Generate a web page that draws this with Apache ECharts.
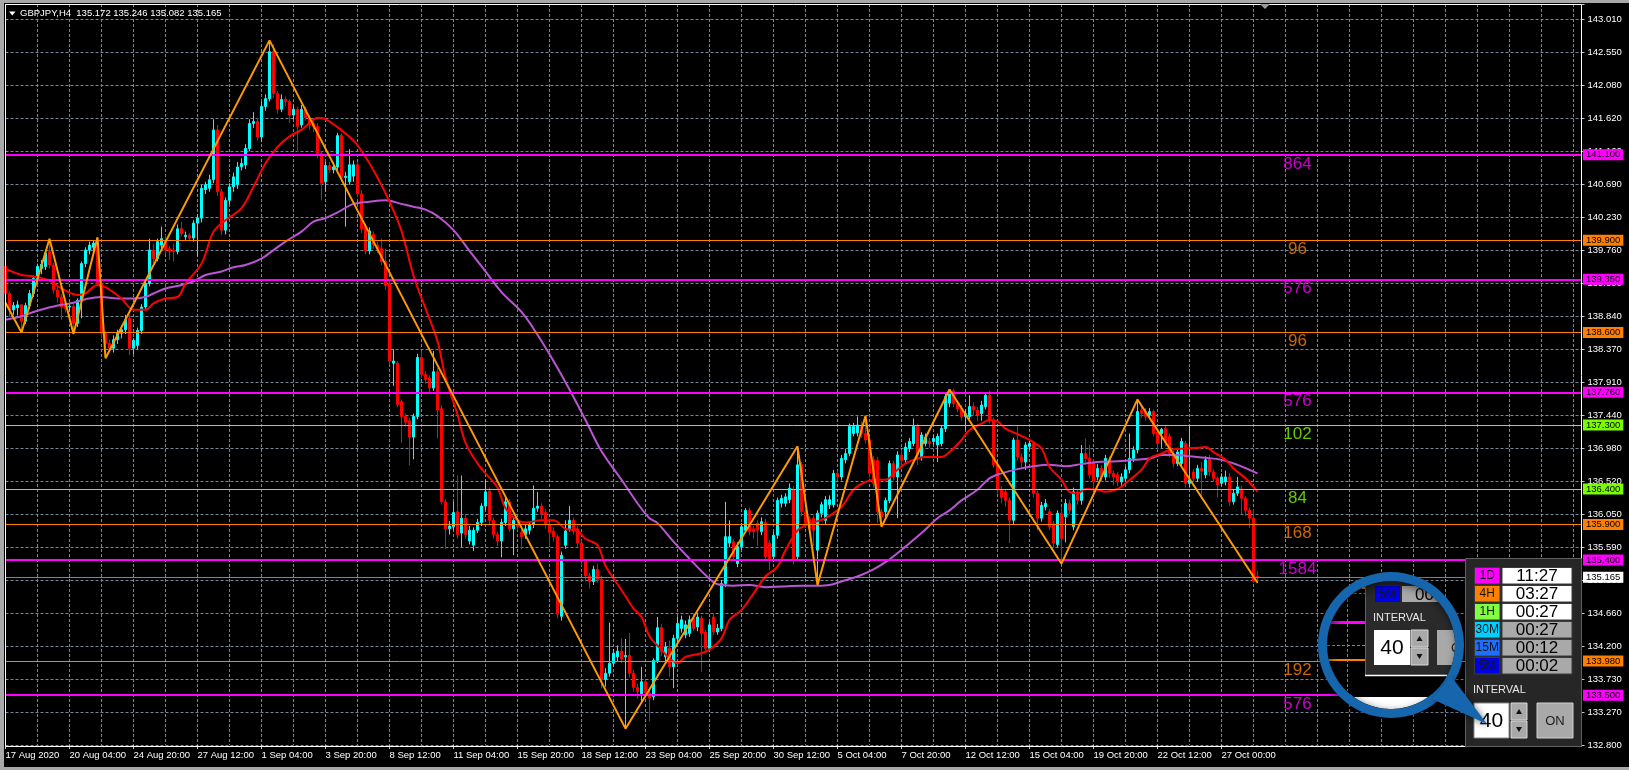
<!DOCTYPE html>
<html><head><meta charset="utf-8">
<script src="https://cdn.jsdelivr.net/npm/echarts@6/dist/echarts.min.js"></script>
<style>html,body{margin:0;padding:0;background:#000;overflow:hidden}#c{width:1629px;height:770px}</style>
</head><body><div id="c"></div>
<script>
// ---------------- DATA ----------------
const symbolName = 'GBPJPY', timeframe = 'H4';
const xLabels = ['17 Aug 2020','20 Aug 04:00','24 Aug 20:00','27 Aug 12:00','1 Sep 04:00','3 Sep 20:00','8 Sep 12:00','11 Sep 04:00','15 Sep 20:00','18 Sep 12:00','23 Sep 04:00','25 Sep 20:00','30 Sep 12:00','5 Oct 04:00','7 Oct 20:00','12 Oct 12:00','15 Oct 04:00','19 Oct 20:00','22 Oct 12:00','27 Oct 00:00'];
const yTickLabels = ['132.800','133.270','133.730','134.200','134.660','135.130','135.590','136.050','136.520','136.980','137.440','137.910','138.370','138.840','139.300','139.760','140.230','140.690','141.160','141.620','142.080','142.550','143.010'];

const opens = [
139.53,139.15,138.92,138.95,138.99,138.76,138.98,139.15,139.36,139.50,
139.53,139.74,139.55,139.20,139.10,138.98,138.96,138.97,138.73,139.05,
139.57,139.76,139.80,139.86,139.29,138.59,138.45,138.38,138.50,138.59,
138.64,138.80,138.38,138.42,138.63,138.96,139.29,139.76,139.64,139.83,
139.90,139.78,139.76,139.74,140.06,139.95,139.97,139.93,140.14,140.21,
140.61,140.63,140.75,141.45,140.58,140.04,140.46,140.65,140.68,140.93,
140.96,141.19,141.54,141.57,141.35,141.78,141.89,142.55,141.96,141.74,
141.88,141.85,141.66,141.74,141.52,141.74,141.62,141.54,141.50,141.12,
140.72,140.95,140.89,140.93,141.37,140.78,140.72,140.80,140.96,140.55,
140.09,139.75,139.98,139.83,139.78,139.60,139.29,138.17,138.17,137.63,
137.42,137.36,137.13,137.42,138.25,138.01,137.96,137.82,138.05,137.53,
136.22,135.84,135.87,136.08,135.78,135.99,135.67,135.61,135.82,135.93,
136.16,136.37,135.96,135.76,135.67,135.93,136.22,135.84,135.90,135.79,
135.76,135.82,135.90,136.13,136.16,136.07,135.90,135.81,135.73,134.61,
135.61,135.84,135.96,135.84,135.64,135.38,135.18,135.10,135.27,135.13,
133.72,133.81,133.95,134.04,134.12,134.04,134.06,133.81,133.61,133.52,
133.69,133.53,133.48,133.99,134.45,134.04,134.16,133.90,134.30,134.44,
134.35,134.37,134.58,134.46,134.58,134.39,134.16,134.60,134.39,134.44,
135.07,135.64,135.66,135.35,135.59,135.82,136.10,135.84,135.92,135.80,
135.93,135.64,135.45,135.75,136.20,136.20,136.25,136.39,135.45,136.74,
136.08,135.98,135.99,135.54,136.06,135.96,136.18,136.18,136.62,136.57,
136.81,136.90,137.18,137.19,137.28,137.18,137.09,136.81,136.80,136.08,
136.08,136.24,136.76,136.57,136.88,136.81,136.97,137.04,137.28,136.85,
137.04,137.07,137.07,137.02,137.04,137.25,137.61,137.78,137.60,137.53,
137.42,137.42,137.56,137.51,137.46,137.56,137.72,137.37,136.74,136.39,
136.36,136.24,135.96,137.09,136.85,136.78,137.00,137.04,136.34,135.99,
136.15,136.08,135.91,135.62,136.06,136.01,136.20,135.87,136.36,136.24,
136.90,136.83,136.78,136.57,136.69,136.57,136.81,136.62,136.60,136.50,
136.55,136.67,136.83,136.95,137.51,137.49,137.44,137.49,137.20,137.18,
137.25,137.14,136.90,136.76,136.76,137.04,136.48,136.64,136.55,136.69,
136.60,136.83,136.64,136.55,136.48,136.50,136.57,136.22,136.34,136.40,
136.27,136.10,135.99,135.172];
const highs = [
139.56,139.18,139.03,139.05,139.00,139.02,139.20,139.40,139.57,139.62,
139.75,139.92,139.58,139.25,139.14,139.05,139.02,139.00,139.08,139.60,
139.80,139.88,139.90,139.94,139.32,138.62,138.50,138.56,138.64,138.70,
138.85,138.85,138.52,138.67,139.00,139.33,139.92,139.85,139.92,140.09,
139.98,139.82,139.85,140.12,140.16,140.02,140.00,140.18,140.26,140.68,
140.72,140.82,141.60,141.52,140.62,140.50,140.70,140.85,141.00,141.05,
141.25,141.60,141.70,141.62,141.85,141.95,142.71,142.65,142.00,141.95,
141.92,141.88,141.80,141.78,141.80,141.78,141.66,141.60,141.55,141.15,
141.00,141.00,141.00,141.41,141.40,140.86,141.18,141.02,141.00,140.60,
140.12,140.08,140.02,139.88,139.92,139.78,139.32,138.37,138.20,137.66,
137.46,137.40,137.46,138.30,138.34,138.06,138.00,138.34,138.10,137.58,
136.26,135.95,136.22,136.59,136.59,136.05,135.88,135.86,135.98,136.20,
136.53,136.42,136.00,135.80,135.98,136.28,136.26,136.02,135.95,135.84,
135.90,135.95,136.45,136.36,136.20,136.12,135.94,135.86,135.76,135.52,
135.96,136.16,136.00,135.88,135.68,135.42,135.22,135.32,135.35,135.18,
133.88,134.52,134.15,134.20,134.30,134.29,134.38,133.86,133.66,133.90,
133.72,133.58,134.02,134.60,134.50,134.25,134.27,134.35,134.60,134.62,
134.55,134.62,134.65,134.66,134.62,134.42,134.53,134.65,134.50,135.12,
136.22,135.96,135.70,135.65,135.92,136.13,136.14,135.88,135.96,136.00,
135.98,135.68,135.80,136.28,136.32,136.34,136.48,136.44,137.00,136.78,
136.12,136.02,136.03,136.10,136.22,136.30,136.31,136.67,136.66,136.88,
136.96,137.32,137.33,137.42,137.35,137.43,137.12,136.86,136.85,136.12,
136.28,136.80,136.80,136.93,136.95,137.05,137.12,137.39,137.32,137.20,
137.18,137.12,137.16,137.18,137.30,137.74,137.80,137.81,137.65,137.58,
137.52,137.72,137.62,137.55,137.64,137.76,137.78,137.40,136.78,136.44,
136.40,136.28,137.12,137.30,136.90,137.06,137.10,137.08,136.38,136.22,
136.26,136.12,135.95,136.10,136.14,136.26,136.25,136.42,136.40,137.02,
137.11,137.02,136.82,136.75,136.74,136.88,136.86,136.66,136.64,136.62,
136.72,137.18,137.00,137.66,137.60,137.54,137.54,137.52,137.24,137.26,
137.30,137.18,136.94,136.98,137.12,137.08,137.30,136.68,136.74,136.78,
136.86,136.88,136.68,136.58,136.62,136.66,136.62,136.40,136.57,136.45,
136.30,136.14,136.12,135.246];
const lows = [
139.10,138.82,138.85,138.84,138.60,138.72,138.93,139.10,139.30,139.42,
139.48,139.50,139.15,139.02,138.78,138.88,138.90,138.58,138.68,138.80,
139.52,139.70,139.75,139.25,138.52,138.24,138.33,138.32,138.44,138.52,
138.58,138.28,138.30,138.36,138.58,138.92,139.25,139.58,139.60,139.78,
139.70,139.62,139.60,139.70,139.95,139.90,139.88,139.88,139.67,140.15,
140.55,140.58,140.70,140.52,139.97,139.98,140.40,140.58,140.62,140.88,
140.90,141.15,141.48,141.30,141.28,141.72,141.85,141.90,141.68,141.70,
141.78,141.55,141.60,141.14,141.48,141.58,141.45,141.42,141.05,140.46,
140.58,140.85,140.84,140.88,140.72,140.09,140.68,140.72,140.50,140.00,
139.70,139.70,139.78,139.72,139.55,139.20,138.15,137.85,137.55,137.05,
137.28,136.73,136.82,137.38,137.96,137.88,137.76,137.78,137.11,136.18,
135.56,135.76,135.82,135.70,135.58,135.70,135.62,135.53,135.78,135.88,
136.10,135.90,135.70,135.60,135.44,135.88,135.80,135.47,135.82,135.55,
135.70,135.76,135.85,136.08,135.98,135.84,135.60,135.66,134.58,134.55,
135.56,135.80,135.76,135.58,135.32,135.10,135.00,135.05,135.08,133.60,
133.62,133.76,133.90,133.98,133.95,133.03,133.75,133.55,133.45,133.40,
133.50,133.13,133.43,133.95,134.05,133.98,133.76,133.60,134.22,134.38,
134.30,134.32,134.40,134.40,133.83,134.10,134.12,134.35,134.35,134.40,
135.02,135.58,135.40,135.30,135.54,135.78,135.75,135.70,135.60,135.75,
135.40,135.26,135.40,135.70,136.14,136.15,136.20,135.34,135.40,136.02,
135.85,135.80,135.60,135.05,136.00,135.90,136.12,136.14,136.52,136.52,
136.76,136.86,137.14,137.14,137.12,137.04,136.56,136.42,135.92,135.87,
136.00,136.20,136.52,135.99,136.74,136.76,136.92,137.00,136.74,136.80,
137.00,136.98,137.02,136.78,137.00,137.20,137.55,137.55,137.48,137.36,
137.23,137.38,137.44,137.35,137.36,137.52,137.32,136.70,136.34,136.20,
136.15,135.64,135.90,136.80,136.70,136.67,136.95,136.28,135.82,135.94,
136.10,135.82,135.58,135.58,135.35,135.65,136.05,135.82,136.18,136.18,
136.78,136.55,136.38,136.52,136.50,136.52,136.56,136.45,136.44,136.44,
136.50,136.62,136.78,136.90,137.40,137.36,137.38,137.14,136.95,136.98,
137.00,136.84,136.70,136.72,136.72,136.42,136.42,136.50,136.50,136.28,
136.55,136.58,136.50,136.28,136.44,136.45,136.16,136.18,136.30,136.05,
136.02,135.85,135.08,135.082];
const closes = [
139.15,138.92,138.98,138.99,138.76,138.98,139.15,139.36,139.53,139.56,
139.72,139.55,139.20,139.10,138.96,138.94,138.97,138.73,139.05,139.57,
139.76,139.83,139.86,139.29,138.59,138.45,138.38,138.50,138.59,138.64,
138.78,138.38,138.49,138.63,138.96,139.29,139.76,139.64,139.88,139.92,
139.76,139.74,139.74,140.06,139.99,139.97,139.93,140.14,140.21,140.63,
140.68,140.75,141.45,140.58,140.04,140.46,140.65,140.79,140.93,140.98,
141.19,141.54,141.57,141.35,141.78,141.89,142.55,141.96,141.74,141.88,
141.85,141.66,141.74,141.50,141.74,141.62,141.52,141.50,141.12,140.70,
140.95,140.89,140.93,141.37,140.78,140.80,140.96,140.96,140.55,140.06,
139.75,140.03,139.83,139.78,139.60,139.26,138.20,138.20,137.59,137.42,
137.34,137.13,137.42,138.25,138.01,137.94,137.82,138.05,137.51,136.22,
135.84,135.88,136.07,135.76,135.99,135.76,135.82,135.82,135.93,136.16,
136.36,135.96,135.76,135.67,135.93,136.22,135.84,135.96,135.87,135.73,
135.84,135.90,136.13,136.16,136.05,135.90,135.79,135.73,134.64,135.47,
135.81,135.96,135.81,135.64,135.38,135.18,135.10,135.27,135.13,133.72,
133.81,133.95,134.09,134.12,134.01,134.06,133.81,133.61,133.55,133.69,
133.53,133.46,133.99,134.45,134.11,134.18,133.90,134.30,134.51,134.56,
134.49,134.56,134.44,134.60,134.37,134.16,134.49,134.39,134.44,135.07,
135.73,135.73,135.45,135.59,135.87,136.10,135.80,135.80,135.82,135.94,
135.45,135.40,135.75,136.24,136.27,136.29,136.41,135.40,136.74,136.08,
135.92,135.85,135.82,136.06,136.18,136.25,136.25,136.62,136.57,136.83,
136.90,137.28,137.28,137.30,137.18,137.09,136.62,136.48,136.08,136.01,
136.24,136.76,136.57,136.88,136.80,136.99,137.07,137.28,136.88,137.16,
137.13,137.04,137.11,137.14,137.25,137.70,137.79,137.60,137.53,137.42,
137.46,137.56,137.51,137.44,137.58,137.72,137.37,136.74,136.39,136.28,
136.24,135.96,137.09,136.85,136.78,137.02,137.04,136.34,135.99,136.17,
136.20,135.87,135.64,136.06,135.70,136.20,136.10,136.36,136.24,136.90,
136.83,136.60,136.50,136.69,136.57,136.83,136.62,136.57,136.50,136.57,
136.67,136.83,136.95,137.49,137.46,137.42,137.49,137.18,137.04,137.24,
137.06,136.90,136.76,136.92,137.07,136.48,136.53,136.55,136.69,136.65,
136.81,136.64,136.55,136.46,136.57,136.57,136.22,136.34,136.43,136.27,
136.10,135.99,135.10,135.165];

// moving averages: [bar index, price]
const maFast = [[0,139.50],[4,139.41],[7,139.39],[11,139.33],[14,139.22],[18,139.13],[20,139.15],[23,139.27],[25,139.24],[29,139.08],[32,138.92],[35,138.92],[37,139.01],[40,139.08],[43,139.10],[45,139.29],[49,139.57],[52,140.02],[55,140.18],[59,140.35],[62,140.65],[65,140.98],[68,141.21],[71,141.36],[74,141.45],[76,141.55],[78,141.62],[80,141.60],[82,141.53],[87,141.30],[90,141.07],[93,140.78],[96,140.44],[99,140.03],[102,139.40],[105,138.94],[108,138.48],[110,137.97],[113,137.45],[115,137.05],[118,136.76],[120,136.62],[123,136.42],[125,136.13],[128,135.96],[130,135.93],[134,135.96],[137,135.96],[140,135.84],[143,135.81],[145,135.70],[148,135.61],[150,135.32],[154,134.98],[157,134.72],[159,134.60],[161,134.33],[164,134.14],[166,134.02],[168,133.95],[170,134.04],[174,134.09],[176,134.14],[179,134.30],[181,134.56],[184,134.70],[187,134.93],[190,135.17],[193,135.31],[195,135.54],[198,135.82],[200,135.89],[202,135.93],[205,135.99],[209,136.15],[212,136.39],[215,136.50],[218,136.53],[220,136.53],[223,136.67],[225,136.76],[228,136.83],[230,136.85],[234,136.85],[236,136.92],[239,137.09],[241,137.23],[244,137.32],[246,137.37],[248,137.35],[250,137.25],[253,137.17],[256,137.09],[259,136.97],[261,136.71],[264,136.53],[266,136.36],[268,136.34],[270,136.40],[273,136.39],[275,136.36],[278,136.40],[280,136.48],[284,136.67],[286,136.83],[289,136.90],[291,136.95],[295,136.97],[298,136.98],[300,136.99],[302,136.92],[305,136.81],[307,136.69],[310,136.55],[312,136.43],[313,136.36]];
const maSlow = [[0,138.78],[4,138.83],[7,138.89],[10,138.94],[14,138.99],[17,139.02],[20,139.07],[24,139.10],[28,139.08],[32,139.08],[35,139.10],[37,139.15],[40,139.22],[44,139.27],[47,139.32],[50,139.41],[54,139.46],[57,139.52],[60,139.55],[64,139.64],[67,139.76],[70,139.88],[74,140.02],[77,140.16],[80,140.21],[83,140.29],[87,140.41],[91,140.44],[95,140.46],[99,140.41],[102,140.37],[105,140.33],[108,140.24],[112,140.04],[116,139.75],[120,139.46],[124,139.17],[129,138.89],[133,138.57],[137,138.20],[141,137.80],[145,137.37],[149,136.93],[154,136.53],[158,136.20],[161,135.99],[163,135.92],[167,135.66],[171,135.42],[175,135.19],[178,135.06],[182,135.04],[186,135.05],[190,135.02],[194,135.03],[199,135.04],[203,135.04],[206,135.05],[209,135.10],[213,135.17],[217,135.27],[221,135.41],[225,135.59],[229,135.78],[233,135.99],[236,136.10],[239,136.24],[243,136.39],[246,136.55],[249,136.62],[253,136.68],[257,136.72],[261,136.74],[265,136.72],[269,136.75],[273,136.78],[278,136.79],[282,136.81],[286,136.83],[289,136.88],[293,136.88],[296,136.86],[300,136.84],[304,136.81],[308,136.74],[311,136.67],[313,136.62]];
const zigzag = [[0,139.02],[4,138.60],[11,139.92],[17,138.58],[23,139.94],[25,138.24],[66,142.71],[155,133.03],[198,137.00],[203,135.05],[215,137.43],[219,135.87],[236,137.80],[264,135.35],[283,137.66],[313,135.082]];

const levelValues = [141.100,139.900,139.350,138.600,137.760,137.300,136.400,135.900,135.400,133.980,133.500];
const levelKinds  = ['m','o','m','o','m','g','g','o','m','o','m'];
const levelCounts = ['864','96','576','96','576','102','84','168','1584','192','576'];

const tfNames  = ['1D','4H','1H','30M','15M','5M'];
const tfTimers = ['11:27','03:27','00:27','00:27','00:12','00:02'];
const tfActive = [true,true,true,false,false,false];
const intervalValue = '40';

// ---------------- STYLE ----------------
const FONT = '"Liberation Sans", Arial, Helvetica, sans-serif';
const kindColor = {m:'#FF00FF', o:'#FF8000', g:'#7CFC00'};
const tfColors = ['#FF00FF','#FF8000','#80FF40','#00D0FF','#1E6EFF','#0000E6'];
const GRID = '#778899';
const totalSlots = 395, barsPerLabel = 16;

const categories = Array.from({length: totalSlots}, (_, i) => String(i));
const labelAt = i => (i % barsPerLabel === 0 && i / barsPerLabel < xLabels.length) ? xLabels[i / barsPerLabel] : '';
const candleData = opens.map((o, i) => [o, closes[i], lows[i], highs[i]]);
const last = opens.length - 1;
const bid = closes[last];
const titleText = symbolName + ',' + timeframe + '  ' + [opens[last], highs[last], lows[last], closes[last]].map(v => v.toFixed(3)).join(' ');

const levelItems = levelValues.map((v, k) => {
  const c = kindColor[levelKinds[k]];
  return {yAxis: v, lineStyle: {color: c, width: levelKinds[k] === 'm' ? 2 : 1, type: 'solid'},
    label: {show: true, position: 'end', distance: 1.5, formatter: v.toFixed(3), backgroundColor: c, color: '#000',
      fontSize: 9.5, fontFamily: FONT, padding: [1, 3, 0, 3]}};
});
levelItems.push({yAxis: bid, lineStyle: {color: GRID, width: 1, type: 'solid'},
  label: {show: true, position: 'end', distance: 1.5, formatter: bid.toFixed(3), backgroundColor: '#fff', color: '#000',
    fontSize: 9.5, fontFamily: FONT, padding: [1, 3, 0, 3]}});

// --------------- GRAPHIC HELPERS ---------------
const MC = {x: 1391, y: 645, r: 64, R: 73};
function circlePts(n) { const p = []; for (let k = 0; k < n; k++) { const a = 2 * Math.PI * k / n; p.push([MC.x + MC.r * Math.cos(a), MC.y + MC.r * Math.sin(a)]); } return p; }
function clipEdge(poly, inside, inter) {
  const out = [];
  for (let k = 0; k < poly.length; k++) {
    const a = poly[k], b = poly[(k + 1) % poly.length];
    const ia = inside(a), ib = inside(b);
    if (ia && ib) out.push(b);
    else if (ia && !ib) out.push(inter(a, b));
    else if (!ia && ib) { out.push(inter(a, b)); out.push(b); }
  }
  return out;
}
function rectInCircle(x0, y0, x1, y1) {
  let p = circlePts(180);
  p = clipEdge(p, q => q[0] >= x0, (a, b) => { const t = (x0 - a[0]) / (b[0] - a[0]); return [x0, a[1] + t * (b[1] - a[1])]; });
  p = clipEdge(p, q => q[0] <= x1, (a, b) => { const t = (x1 - a[0]) / (b[0] - a[0]); return [x1, a[1] + t * (b[1] - a[1])]; });
  p = clipEdge(p, q => q[1] >= y0, (a, b) => { const t = (y0 - a[1]) / (b[1] - a[1]); return [a[0] + t * (b[0] - a[0]), y0]; });
  p = clipEdge(p, q => q[1] <= y1, (a, b) => { const t = (y1 - a[1]) / (b[1] - a[1]); return [a[0] + t * (b[0] - a[0]), y1]; });
  return p;
}
function hChord(y, xa, xb) { const h = Math.sqrt(Math.max(0, MC.r * MC.r - (y - MC.y) * (y - MC.y))); return [Math.max(xa, MC.x - h), Math.min(xb, MC.x + h)]; }
function txt(x, y, s, size, fill, align) {
  return {type: 'text', x: x, y: y, z: 100, style: {text: s, fill: fill, font: size + 'px ' + FONT, textAlign: align || 'center', textVerticalAlign: 'middle', align: align || 'center', verticalAlign: 'middle'}};
}
function rect(x, y, w, h, fill, stroke) { return {type: 'rect', z: 100, shape: {x: x, y: y, width: w, height: h}, style: {fill: fill, stroke: stroke || null, lineWidth: 1}}; }
function poly(points, fill) { return {type: 'polygon', z: 100, shape: {points: points}, style: {fill: fill}}; }
function hline(x1, x2, y, color, w, dash) { return {type: 'line', z: 100, shape: {x1: x1, y1: y, x2: x2, y2: y}, style: {stroke: color, lineWidth: w, lineDash: dash || null}}; }
function vline(x, y1, y2, color, w, dash) { return {type: 'line', z: 100, shape: {x1: x, y1: y1, x2: x, y2: y2}, style: {stroke: color, lineWidth: w, lineDash: dash || null}}; }

const G = [];
// window frame
G.push(rect(0, 0, 1629, 3, '#a8a8a8'));
G.push(rect(0, 0, 4, 770, '#a8a8a8'));
G.push(rect(0, 767, 1629, 3, '#a8a8a8'));
G.push({type: 'rect', z: 99, shape: {x: 5.5, y: 4.5, width: 1576, height: 742}, style: {fill: null, stroke: '#ffffff', lineWidth: 1}});
// title + markers
G.push(poly([[9, 11.5], [15.5, 11.5], [12.25, 15.5]], '#ffffff'));
G.push(txt(20, 13.5, titleText, 9.5, '#ffffff', 'left'));
G.push(poly([[1260, 4], [1270, 4], [1265, 9]], '#9a9a9a'));

// ---- timer panel ----
G.push(rect(1465.5, 558.5, 116, 188, '#262626', '#606060'));
for (let r = 0; r < tfNames.length; r++) {
  const y0 = 567.5 + 18 * r;
  G.push(rect(1474.5, y0, 25.5, 16.5, tfColors[r], '#3a3a3a'));
  G.push(txt(1487.25, y0 + 8.5, tfNames[r], 12, '#151515'));
  G.push(rect(1502, y0, 70, 16.5, tfActive[r] ? '#ffffff' : '#a9a9a9', '#3a3a3a'));
  G.push(txt(1537, y0 + 8.8, tfTimers[r], 17, '#000000'));
}
G.push(txt(1473, 690, 'INTERVAL', 11, '#e8e8e8', 'left'));
G.push(rect(1474, 703, 35, 35, '#ffffff', '#888'));
G.push(txt(1491.5, 721, intervalValue, 21, '#000000'));
G.push(rect(1511, 703, 16, 17, '#a9a9a9', '#d8d8d8'));
G.push(rect(1511, 721, 16, 17, '#a9a9a9', '#d8d8d8'));
G.push(poly([[1516, 714], [1522, 714], [1519, 709]], '#111'));
G.push(poly([[1516, 727], [1522, 727], [1519, 732]], '#111'));
G.push(rect(1537, 703, 36, 35, '#a9a9a9', '#d0d0d0'));
G.push(txt(1555, 721, 'ON', 13, '#202020'));

// ---- magnifier ----
G.push({type: 'circle', z: 100, shape: {cx: MC.x, cy: MC.y, r: MC.r}, style: {fill: '#000'}});
(function () {
  let c = hChord(593, 0, 1365); G.push(hline(c[0], c[1], 593.5, GRID, 1, [3, 2]));
  c = hChord(645, 0, 1365); G.push(hline(c[0], c[1], 645.5, GRID, 1, [3, 2]));
  G.push(vline(1347.5, 599, 691, GRID, 1, [3, 2]));
  c = hChord(588, 0, 1365); G.push(hline(c[0], c[1], 588, '#FF8000', 2));
  c = hChord(622.5, 0, 1365); G.push(hline(c[0], c[1], 622.5, '#FF00FF', 3));
  c = hChord(660, 0, 1365); G.push(hline(c[0], c[1], 660, '#FF8000', 2));
  G.push(poly(rectInCircle(1365, 560, 1480, 675), '#2a2a2a'));
  c = [585, 675]; G.push(vline(1365.5, 584, 675, '#606060', 1));
  G.push(poly(rectInCircle(1375, 586, 1400, 602), '#0000E6'));
  G.push(txt(1387.5, 594.5, '5M', 12, '#151515'));
  G.push(poly(rectInCircle(1402, 586, 1446, 602), '#a9a9a9'));
  G.push(txt(1415, 595, '00', 17, '#000', 'left'));
  G.push(txt(1373, 617.5, 'INTERVAL', 11, '#e8e8e8', 'left'));
  G.push(rect(1374, 630, 36, 35, '#ffffff'));
  G.push(txt(1392, 648.5, intervalValue, 21, '#000'));
  G.push(rect(1411, 630, 17, 17, '#a9a9a9', '#d8d8d8'));
  G.push(rect(1411, 648, 17, 17, '#a9a9a9', '#d8d8d8'));
  G.push(poly([[1416.5, 641], [1422.5, 641], [1419.5, 636]], '#111'));
  G.push(poly([[1416.5, 654], [1422.5, 654], [1419.5, 659]], '#111'));
  G.push(poly(rectInCircle(1437, 630, 1480, 665), '#a9a9a9'));
  G.push(txt(1451, 648, 'O', 13, '#202020', 'left'));
  c = hChord(675.5, 1365, 1480); G.push(hline(c[0], c[1], 675.5, '#ffffff', 1.5));
  G.push(poly(rectInCircle(1350, 697, 1480, 720), '#ffffff'));
})();
G.push({type: 'ring', z: 101, shape: {cx: MC.x, cy: MC.y, r: MC.R, r0: MC.r}, style: {fill: '#1566ad', shadowBlur: 8, shadowColor: 'rgba(0,0,0,0.6)', shadowOffsetX: 2, shadowOffsetY: 3}});
G.push({type: 'polygon', z: 101, shape: {points: [[1451, 676], [1432, 699], [1487, 724]]}, style: {fill: '#1566ad', shadowBlur: 6, shadowColor: 'rgba(0,0,0,0.5)', shadowOffsetX: 2, shadowOffsetY: 2}});

// ---------------- CHART ----------------
const chart = echarts.init(document.getElementById('c'), null, {renderer: 'canvas'});
const tickFn = i => labelAt(i) !== '';
chart.setOption({
  backgroundColor: '#000',
  animation: false,
  grid: {left: 5.5, right: 47.5, top: 4, bottom: 25, show: false},
  xAxis: {
    type: 'category', data: categories, boundaryGap: false,
    axisLine: {show: false},
    axisTick: {show: true, length: 4, interval: tickFn, lineStyle: {color: '#c8c8c8'}},
    axisLabel: {show: true, interval: tickFn, formatter: (v, i) => labelAt(i), color: '#ffffff', fontSize: 9.5, fontFamily: FONT, align: 'left', margin: 5},
    splitLine: {show: true, interval: i => i % 8 === 0, lineStyle: {color: GRID, type: [3, 2], width: 1}}
  },
  yAxis: {
    type: 'value', position: 'right', min: 132.8, max: 143.221, interval: 0.46409, scale: false,
    axisLine: {show: false},
    axisTick: {show: true, length: 3, lineStyle: {color: '#c8c8c8'}},
    axisLabel: {
      color: '#ffffff', fontSize: 9.5, fontFamily: FONT, margin: 6, align: 'left',
      formatter: v => { const k = (v - 132.8) / 0.46409; const r = Math.round(k); return Math.abs(k - r) < 0.02 && yTickLabels[r] ? yTickLabels[r] : ''; }
    },
    splitLine: {show: true, lineStyle: {color: GRID, type: [3, 2], width: 1}}
  },
  series: [
    {type: 'candlestick', data: candleData, barWidth: 2, z: 2,
      itemStyle: {color: '#00FFFF', color0: '#FF0000', borderColor: '#00FFFF', borderColor0: '#FF0000', borderWidth: 1}},
    {type: 'line', data: maSlow, smooth: 0.35, symbol: 'none', z: 3, lineStyle: {color: '#BA55D3', width: 2}},
    {type: 'line', data: maFast, smooth: 0.35, symbol: 'none', z: 4, lineStyle: {color: '#FF0000', width: 2}},
    {type: 'line', data: zigzag, symbol: 'none', z: 5, lineStyle: {color: '#FF9A00', width: 2}},
    {type: 'line', data: [], z: 6, markLine: {silent: true, symbol: ['none', 'none'], animation: false, data: levelItems}},
    {type: 'scatter', z: 7, symbolSize: 1, itemStyle: {color: 'rgba(0,0,0,0)'},
      data: levelValues.map((v, k) => ({value: [323, v], label: {color: kindColor[levelKinds[k]], formatter: levelCounts[k]}})),
      label: {show: true, position: 'inside', offset: [0, 9], fontSize: 17, fontFamily: FONT}}
  ],
  graphic: {elements: G}
});
</script></body></html>
